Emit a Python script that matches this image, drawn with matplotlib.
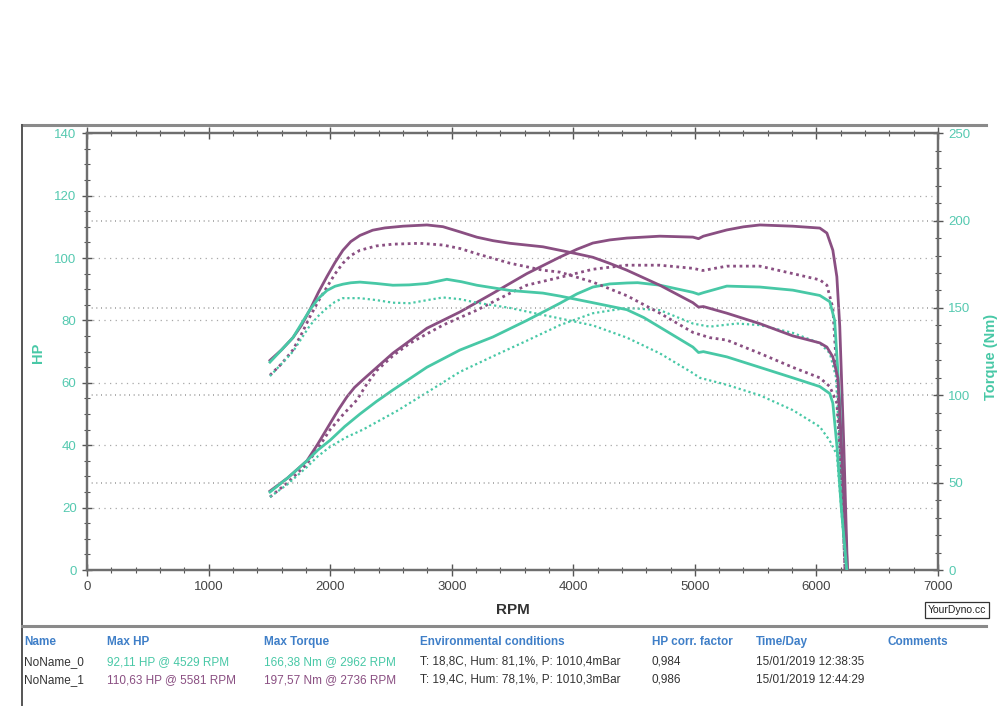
import matplotlib
matplotlib.use("Agg")
import matplotlib.pyplot as plt
from matplotlib.lines import Line2D

plt.rcParams['font.family'] = ['Liberation Sans', 'DejaVu Sans']
plt.rcParams['lines.solid_joinstyle'] = 'round'
plt.rcParams['lines.dash_joinstyle'] = 'round'

PURPLE = '#8a4f82'
TEAL = '#48c8a6'
TICKTEAL = '#55c9b0'
BLUE = '#3f7fc8'

# ---------------- data ----------------
x_ticks = [0, 1000, 2000, 3000, 4000, 5000, 6000, 7000]
hp_ticks = [0, 20, 40, 60, 80, 100, 120, 140]
tq_ticks = [0, 50, 100, 150, 200, 250]

# NoName_1 (purple) torque, solid
p_tq_rpm = [1505, 1600, 1694, 1764, 1834, 1904, 1974, 2040, 2105, 2170, 2245, 2350, 2450, 2600, 2796,
            2928, 3070, 3207, 3340, 3479, 3750, 3890, 4030, 4161, 4300, 4441, 4712, 4984, 5030, 5070,
            5263, 5535, 5806, 6028, 6086, 6135, 6176, 6200, 6230, 6255]
p_tq = [120, 126, 133, 140, 149, 159, 168, 176, 183, 188, 191.5, 194.5, 195.8, 196.8, 197.5,
        196.5, 193.5, 190.5, 188.5, 187, 185, 183, 181, 179, 175.5, 171.6, 163, 153, 150.5, 150.8,
        147, 141, 134, 130, 127.6, 122, 110, 80, 35, 0]
# NoName_1 (purple) HP, solid
p_hp_rpm = [1505, 1650, 1809, 1900, 2000, 2070, 2138, 2200, 2270, 2400, 2516, 2796, 3067, 3339, 3618,
            3890, 4030, 4161, 4300, 4441, 4712, 4984, 5030, 5070, 5263, 5400, 5535, 5806, 6028, 6086,
            6135, 6168, 6192, 6225, 6255]
p_hp = [25.3, 29.5, 35, 40.5, 47, 51.5, 55.5, 58.5, 61, 65.5, 69.5, 77.5, 82.7, 88.7, 95,
        100.3, 102.8, 104.8, 105.8, 106.4, 107, 106.7, 106.2, 107, 109, 110, 110.6, 110.2, 109.6, 108,
        102.5, 94, 78, 40, 0]
# NoName_1 (purple) torque, dotted
p_tq2_rpm = [1505, 1600, 1694, 1764, 1834, 1904, 1974, 2040, 2105, 2170, 2245, 2380, 2516, 2738,
             2928, 3070, 3207, 3479, 3750, 3890, 4161, 4441, 4712, 4984, 5123, 5263, 5535, 5806,
             6028, 6110, 6168, 6200, 6235]
p_tq2 = [111.5, 118, 126, 135, 145, 154, 162, 169.5, 175.6, 180, 183, 185.5, 186.5, 187,
         186, 184, 181, 175.6, 171.6, 170.5, 164.8, 157, 147, 136, 133, 131.6, 124, 116,
         110, 105, 95.5, 60, 0]
# NoName_1 (purple) HP, dotted
p_hp2_rpm = [1505, 1650, 1809, 1900, 2000, 2110, 2220, 2300, 2385, 2520, 2656, 2928, 3207, 3479,
             3618, 3890, 4161, 4441, 4712, 4984, 5066, 5263, 5535, 5806, 6028, 6086, 6135, 6180, 6235]
p_hp2 = [23.4, 28, 34, 39, 45, 50, 54.5, 59.5, 64, 68.8, 72.7, 78.5, 83.3, 88.7,
         91.3, 93.8, 96.4, 97.7, 97.7, 96.7, 96, 97.4, 97.4, 95, 93, 91.3, 84, 55, 0]
# NoName_0 (teal) torque, solid
t_tq_rpm = [1505, 1600, 1694, 1764, 1834, 1904, 1974, 2040, 2105, 2170, 2245, 2380, 2516, 2650, 2796,
            2960, 3080, 3207, 3479, 3750, 3890, 4161, 4441, 4580, 4712, 4984, 5030, 5070, 5263, 5535,
            5806, 6028, 6110, 6135, 6170, 6205, 6250]
t_tq = [119, 126, 133, 141, 149, 155.5, 160, 162.4, 163.6, 164.4, 164.8, 164, 163, 163.2, 164,
        166.4, 165, 163, 160, 158.5, 156.8, 153, 149, 144.5, 139, 127.6, 124.5, 125, 122, 116,
        110, 105, 101, 95.5, 70, 35, 0]
# NoName_0 (teal) HP, solid
t_hp_rpm = [1505, 1650, 1809, 1900, 2000, 2120, 2245, 2380, 2516, 2796, 3067, 3339, 3618, 3890,
            4030, 4161, 4300, 4441, 4529, 4712, 4984, 5030, 5070, 5263, 5535, 5806, 6028, 6110, 6150,
            6190, 6225, 6250]
t_hp = [25, 29.5, 35, 38.5, 41.6, 46, 50, 54, 57.7, 65, 70.5, 74.7, 80, 85.5,
        88.5, 90.7, 91.7, 92, 92.1, 91.3, 89, 88.4, 88.9, 91, 90.7, 89.7, 88, 86, 80,
        55, 20, 0]
# NoName_0 (teal) torque, dotted
t_tq2_rpm = [1505, 1600, 1694, 1764, 1834, 1904, 1974, 2040, 2105, 2245, 2380, 2516, 2656, 2800,
             2928, 3070, 3207, 3479, 3750, 3890, 4161, 4441, 4712, 4984, 5041, 5263, 5535, 5806,
             6028, 6110, 6168, 6210, 6245]
t_tq2 = [111, 118, 125, 132.5, 140, 145.5, 150, 153.5, 155.6, 155.6, 154.5, 153, 152.7, 154.5,
         156, 155, 153, 150, 146, 144, 140, 133, 124, 112.7, 110, 106, 100, 91.5,
         82, 74, 66, 30, 0]
# NoName_0 (teal) HP, dotted
t_hp2_rpm = [1505, 1650, 1809, 1900, 2000, 2130, 2270, 2410, 2550, 2800, 3067, 3339, 3618, 3890,
             4161, 4441, 4712, 4984, 5123, 5345, 5535, 5806, 6028, 6110, 6160, 6205, 6245]
t_hp2 = [23.4, 27.5, 33, 36.5, 39.5, 42.5, 45, 48, 51, 57, 63.5, 68.5, 73.5, 78.5,
         82.3, 84, 83.3, 79, 78, 79, 78.5, 76, 72.7, 69.5, 62, 30, 0]

# ---------------- figure ----------------
fig = plt.figure(figsize=(10, 7.28), dpi=100)
fig.patch.set_facecolor('white')
ax = fig.add_axes([0.087, 0.217, 0.851, 0.6])
ax2 = ax.twinx()

ax.set_xlim(0, 7000)
ax.set_ylim(0, 140)
ax2.set_ylim(0, 250)

# grids
for v in [20, 40, 60, 80, 100, 120]:
    ax.axhline(v, color='#a8a8a8', lw=0.9, ls=(0, (1, 3.5)), zorder=1)
for v in [50, 100, 150, 200]:
    ax2.axhline(v, color='#a0a0a0', lw=1.2, ls=(0, (0.6, 2.2)), zorder=1)

lw = 2.0
dot = (0, (1, 1.3))
ax2.plot(p_tq_rpm, p_tq, color=PURPLE, lw=lw, zorder=3)
ax.plot(p_hp_rpm, p_hp, color=PURPLE, lw=lw, zorder=3)
ax2.plot(p_tq2_rpm, p_tq2, color=PURPLE, lw=lw, ls=dot, zorder=3)
ax.plot(p_hp2_rpm, p_hp2, color=PURPLE, lw=lw, ls=dot, zorder=3)
ax2.plot(t_tq_rpm, t_tq, color=TEAL, lw=lw, zorder=3)
ax.plot(t_hp_rpm, t_hp, color=TEAL, lw=lw, zorder=3)
ax2.plot(t_tq2_rpm, t_tq2, color=TEAL, lw=1.6, ls=dot, zorder=3)
ax.plot(t_hp2_rpm, t_hp2, color=TEAL, lw=1.6, ls=dot, zorder=3)

# ticks
ax.set_xticks(x_ticks)
ax.set_xticks(range(0, 7001, 200), minor=True)
ax.set_yticks(hp_ticks)
ax.set_yticks(range(0, 141, 5), minor=True)
ax2.set_yticks(tq_ticks)
ax2.set_yticks(range(0, 251, 10), minor=True)

for a in (ax, ax2):
    for s in a.spines.values():
        s.set_color('#6e6e6e')
        s.set_linewidth(1.6)
ax.tick_params(axis='x', which='major', direction='inout', length=8, width=1, color='#555555',
               labelsize=9.5, labelcolor='#444444', top=True, pad=4)
ax.tick_params(axis='x', which='minor', direction='inout', length=5, width=0.8, color='#555555', top=True)
ax.tick_params(axis='y', which='major', direction='inout', length=7, width=1, color='#555555',
               labelsize=9.5, labelcolor=TICKTEAL, pad=4)
ax.tick_params(axis='y', which='minor', direction='inout', length=4, width=0.8, color='#555555')
ax2.tick_params(axis='y', which='major', direction='inout', length=7, width=1, color='#555555',
                labelsize=9.5, labelcolor=TICKTEAL, pad=4)
ax2.tick_params(axis='y', which='minor', direction='inout', length=4, width=0.8, color='#555555')

ax.set_xlabel('RPM', fontsize=11, fontweight='bold', color='#333333', labelpad=7)
fig.text(0.038, 0.516, 'HP', rotation=90, ha='center', va='center', fontsize=10.5,
         fontweight='bold', color=TEAL)
fig.text(0.991, 0.51, 'Torque (Nm)', rotation=90, ha='center', va='center', fontsize=10.5,
         fontweight='bold', color=TEAL)

# outer frame lines
def fline(x0, y0, x1, y1, lw=2.2, c='#8a8a8a'):
    fig.add_artist(Line2D([x0 / 1000, x1 / 1000], [1 - y0 / 728, 1 - y1 / 728],
                          color=c, lw=lw, transform=fig.transFigure))

fline(22, 125, 986, 125)
fline(22, 125, 22, 705, lw=1.4, c='#555555')
fline(22, 626, 986, 626)

# YourDyno box
fig.text(0.928, 1 - 610 / 728, 'YourDyno.cc', fontsize=7.5, color='#222222', va='center', ha='left',
         bbox=dict(boxstyle='square,pad=0.25', fc='white', ec='#333333', lw=0.9))

# table
hy = 1 - 642 / 728
r1 = 1 - 662 / 728
r2 = 1 - 680 / 728
cols = [22, 105, 262, 418, 650, 754, 886]
headers = ['Name', 'Max HP', 'Max Torque', 'Environmental conditions', 'HP corr. factor',
           'Time/Day', 'Comments']
row0 = ['NoName_0', '92,11 HP @ 4529 RPM', '166,38 Nm @ 2962 RPM',
        'T: 18,8C, Hum: 81,1%, P: 1010,4mBar', '0,984', '15/01/2019 12:38:35']
row1 = ['NoName_1', '110,63 HP @ 5581 RPM', '197,57 Nm @ 2736 RPM',
        'T: 19,4C, Hum: 78,1%, P: 1010,3mBar', '0,986', '15/01/2019 12:44:29']
for x, h in zip(cols, headers):
    fig.text(x / 1000 + 0.002, hy, h, fontsize=8.5, fontweight='bold', color=BLUE, va='center')
row_colors0 = ['#333333', TEAL, TEAL, '#333333', '#333333', '#333333']
row_colors1 = ['#333333', PURPLE, PURPLE, '#333333', '#333333', '#333333']
for x, t, c in zip(cols, row0, row_colors0):
    fig.text(x / 1000 + 0.002, r1, t, fontsize=8.5, color=c, va='center')
for x, t, c in zip(cols, row1, row_colors1):
    fig.text(x / 1000 + 0.002, r2, t, fontsize=8.5, color=c, va='center')

fig.savefig('out.png', dpi=100)
